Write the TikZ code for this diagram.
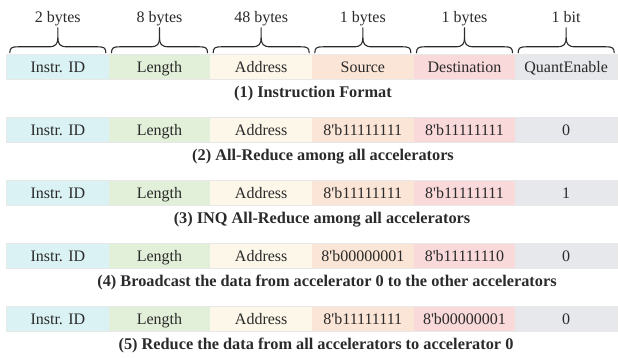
\documentclass[tikz,border=0pt]{standalone}
\usepackage{fontspec}
\setmainfont{Liberation Serif}
\usetikzlibrary{calc,backgrounds}
\definecolor{cid}{HTML}{DAF2F4}
\definecolor{clen}{HTML}{E2F0D9}
\definecolor{cadr}{HTML}{FCF7E8}
\definecolor{csrc}{HTML}{FBE5D6}
\definecolor{cdst}{HTML}{F9D9DA}
\definecolor{cqe}{HTML}{E7E8EB}
\definecolor{ink}{HTML}{2A2A2A}
\tikzset{
  cell/.style={inner sep=0pt, minimum width=101.67pt, minimum height=24pt,
    text height=10.6pt, text depth=0pt, text=ink,
    font=\fontsize{16}{19}\selectfont},
  caption/.style={inner sep=0pt, anchor=base, text=ink,
    font=\fontsize{16.3}{19}\selectfont\bfseries},
  bracelbl/.style={inner sep=0pt, anchor=base, text=ink,
    font=\fontsize{16}{19}\selectfont},
  bracepath/.style={draw=ink, line width=1.1pt, line cap=round, line join=round},
  rowbg/.style={fill=black!9, draw=none}
}
\newcommand\bq{8\textquotesingle b}
% #1 prefix, #2 y of row centre, #3..#8 texts
\newcommand\fieldrow[8]{%
  \node[cell, fill=cid]  (#1c1) at (57.83,#2)  {#3};
  \node[cell, fill=clen] (#1c2) at (159.5,#2)  {#4};
  \node[cell, fill=cadr] (#1c3) at (261.17,#2) {#5};
  \node[cell, fill=csrc] (#1c4) at (362.83,#2) {#6};
  \node[cell, fill=cdst] (#1c5) at (464.5,#2)  {#7};
  \node[cell, fill=cqe]  (#1c6) at (566.17,#2) {#8};
  \begin{scope}[on background layer]
    \path[rowbg] ($(#1c1.north west)+(-1,-1)$) rectangle ($(#1c6.south east)+(1,1)$);
  \end{scope}
}
% brace over a cell: #1 cell node, #2 label name, #3 label text
\newcommand\fieldbrace[3]{%
  \begin{scope}[shift={(#1.north)}]
    \draw[bracepath] (-48,-2) .. controls (-48,-7) and (-46,-8) .. (-40,-8)
      -- (-9,-8) .. controls (-2,-8) and (0,-11) .. (0,-17) -- (0,-27);
    \draw[bracepath] (48,-2) .. controls (48,-7) and (46,-8) .. (40,-8)
      -- (9,-8) .. controls (2,-8) and (0,-11) .. (0,-17);
    \node[bracelbl] (#2) at (0,-32.5) {#3};
  \end{scope}
}
\begin{document}
\begin{tikzpicture}[x=1pt,y=-1pt]
  \useasboundingbox (0,0) rectangle (618,358);
  \fieldrow{ra}{67}{Instr. ID}{Length}{Address}{Source}{Destination}{QuantEnable}
  \fieldbrace{rac1}{b1}{2 bytes}
  \fieldbrace{rac2}{b2}{8 bytes}
  \fieldbrace{rac3}{b3}{48 bytes}
  \fieldbrace{rac4}{b4}{1 bytes}
  \fieldbrace{rac5}{b5}{1 bytes}
  \fieldbrace{rac6}{b6}{1 bit}
  \node[caption] (capa) at ($(rac1.south west)!0.5!(rac6.south east)+(1,18)$) {(1) Instruction Format};

  \fieldrow{rb}{130}{Instr. ID}{Length}{Address}{\bq11111111}{\bq11111111}{0}
  \node[caption] (capb) at ($(rbc1.south west)!0.5!(rbc6.south east)+(11,18)$) {(2) All-Reduce among all accelerators};

  \fieldrow{rc}{193}{Instr. ID}{Length}{Address}{\bq11111111}{\bq11111111}{1}
  \node[caption] (capc) at ($(rcc1.south west)!0.5!(rcc6.south east)+(10,18)$) {(3) INQ All-Reduce among all accelerators};

  \fieldrow{rd}{256}{Instr. ID}{Length}{Address}{\bq00000001}{\bq11111110}{0}
  \node[caption] (capd) at ($(rdc1.south west)!0.5!(rdc6.south east)+(15,18)$) {(4) Broadcast the data from accelerator 0 to the other accelerators};

  \fieldrow{re}{319}{Instr. ID}{Length}{Address}{\bq11111111}{\bq00000001}{0}
  \node[caption] (cape) at ($(rec1.south west)!0.5!(rec6.south east)+(4,18)$) {(5) Reduce the data from all accelerators to accelerator 0};
\end{tikzpicture}
\end{document}
